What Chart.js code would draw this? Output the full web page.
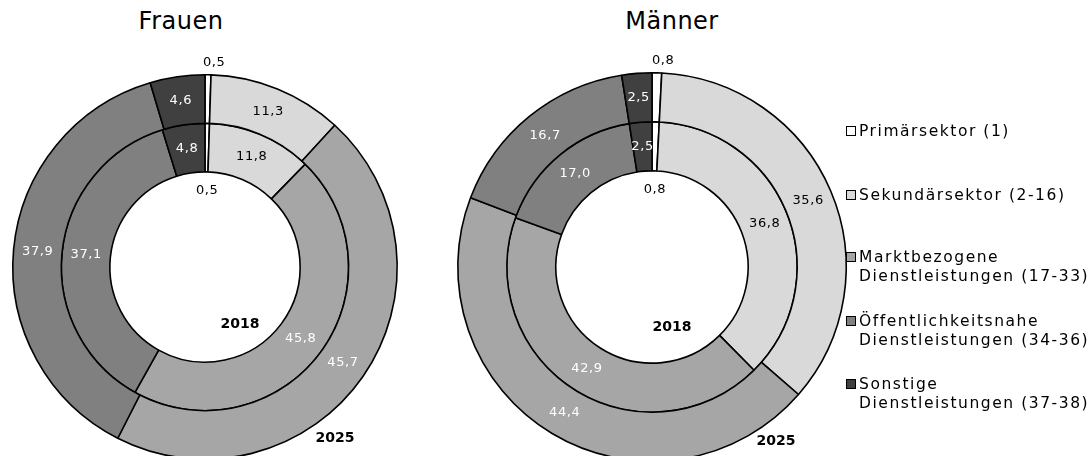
<!DOCTYPE html>
<html>
<head>
<meta charset="utf-8">
<script src="https://cdn.jsdelivr.net/npm/chart.js@4.4.1/dist/chart.umd.min.js"></script>
<style>
  html, body { margin: 0; padding: 0; width: 1091px; height: 456px; overflow: hidden; background: #fff; font-family: "DejaVu Sans", sans-serif; }
  .wrap { position: absolute; }
  .title { position: absolute; font-size: 24px; color: #000; letter-spacing: 0.5px; white-space: nowrap; transform: translateX(-50%); }
  .year { position: absolute; font-size: 14px; font-weight: bold; color: #000; white-space: nowrap; transform: translate(-50%, -50%); }
  #legend { position: absolute; left: 845px; top: 0; }
  .li { position: absolute; left: 0; white-space: nowrap; font-size: 15.5px; letter-spacing: 1.55px; color: #000; line-height: 19px; }
  .box { position: absolute; left: 1px; width: 8px; height: 8px; border: 1.5px solid #000; }
  .txt { position: absolute; left: 14px; top: 0; }
</style>
</head>
<body>
<div class="title" style="left:181px; top:7px;">Frauen</div>
<div class="title" style="left:672px; top:7px;">Männer</div>
<div class="wrap" id="wF" style="left:-8px; top:54px; width:426px; height:426px;"><canvas id="cF"></canvas></div>
<div class="wrap" id="wM" style="left:437px; top:52px; width:430px; height:430px;"><canvas id="cM"></canvas></div>
<div class="year" style="left:240px; top:323px;">2018</div>
<div class="year" style="left:335px; top:437px;">2025</div>
<div class="year" style="left:672px; top:326px;">2018</div>
<div class="year" style="left:776px; top:440px;">2025</div>
<div id="legend"></div>
<script>
// ---- data ----
const categories = ["Primärsektor (1)", "Sekundärsektor (2-16)", "Marktbezogene\nDienstleistungen (17-33)", "Öffentlichkeitsnahe\nDienstleistungen (34-36)", "Sonstige\nDienstleistungen (37-38)"];
const years = ["2025", "2018"];
const frauen2025 = [0.5, 11.3, 45.7, 37.9, 4.6];
const frauen2018 = [0.5, 11.8, 45.8, 37.1, 4.8];
const maenner2025 = [0.8, 35.6, 44.4, 16.7, 2.5];
const maenner2018 = [0.8, 36.8, 42.9, 17.0, 2.5];

// ---- styles ----
const fills = ["#ffffff", "#d9d9d9", "#a6a6a6", "#808080", "#404040"];
const labelColors = ["#000000", "#000000", "#ffffff", "#ffffff", "#ffffff"];
const legendTops = [122, 186, 248, 312, 375];

function fmt(v) { return v.toFixed(1).replace(".", ","); }

const valueLabels = {
  id: "valueLabels",
  afterDatasetsDraw(chart) {
    const ctx = chart.ctx;
    ctx.save();
    ctx.font = "13px 'DejaVu Sans', sans-serif";
    try { ctx.letterSpacing = "0.6px"; } catch (e) {}
    ctx.textAlign = "center";
    ctx.textBaseline = "middle";
    chart.data.datasets.forEach((ds, di) => {
      const meta = chart.getDatasetMeta(di);
      meta.data.forEach((arc, i) => {
        const p = arc.getProps(["x", "y", "startAngle", "endAngle", "innerRadius", "outerRadius"], true);
        const mid = (p.startAngle + p.endAngle) / 2;
        let r = (p.innerRadius + p.outerRadius) / 2;
        let color = labelColors[i];
        let dx = 0;
        const v = ds.data[i];
        if (v < 1) {
          color = "#000000";
          if (di === 0) { r = p.outerRadius + 12; dx = 6; } else { r = p.innerRadius - 19; dx = 1; }
        }
        const x = p.x + Math.cos(mid) * r + dx;
        const y = p.y + Math.sin(mid) * r;
        ctx.fillStyle = color;
        ctx.fillText(fmt(v), x, y);
      });
    });
    ctx.restore();
  }
};

function makeChart(id, outer, inner) {
  return new Chart(document.getElementById(id), {
    type: "doughnut",
    data: {
      labels: categories,
      datasets: [
        { label: years[0], data: outer, backgroundColor: fills, borderColor: "#000", borderWidth: 1.6, hoverOffset: 0 },
        { label: years[1], data: inner, backgroundColor: fills, borderColor: "#000", borderWidth: 1.6, hoverOffset: 0 }
      ]
    },
    options: {
      responsive: true,
      maintainAspectRatio: false,
      animation: false,
      cutout: "49.5%",
      layout: { padding: 20 },
      plugins: { legend: { display: false }, tooltip: { enabled: false } }
    },
    plugins: [valueLabels]
  });
}

makeChart("cF", frauen2025, frauen2018);
makeChart("cM", maenner2025, maenner2018);

// legend
const lg = document.getElementById("legend");
categories.forEach((c, i) => {
  const d = document.createElement("div");
  d.className = "li";
  d.style.top = legendTops[i] + "px";
  const b = document.createElement("div");
  b.className = "box";
  b.style.top = "4px";
  b.style.background = fills[i];
  const t = document.createElement("div");
  t.className = "txt";
  t.innerHTML = c.split("\n").join("<br>");
  d.appendChild(b); d.appendChild(t);
  lg.appendChild(d);
});
</script>
</body>
</html>
